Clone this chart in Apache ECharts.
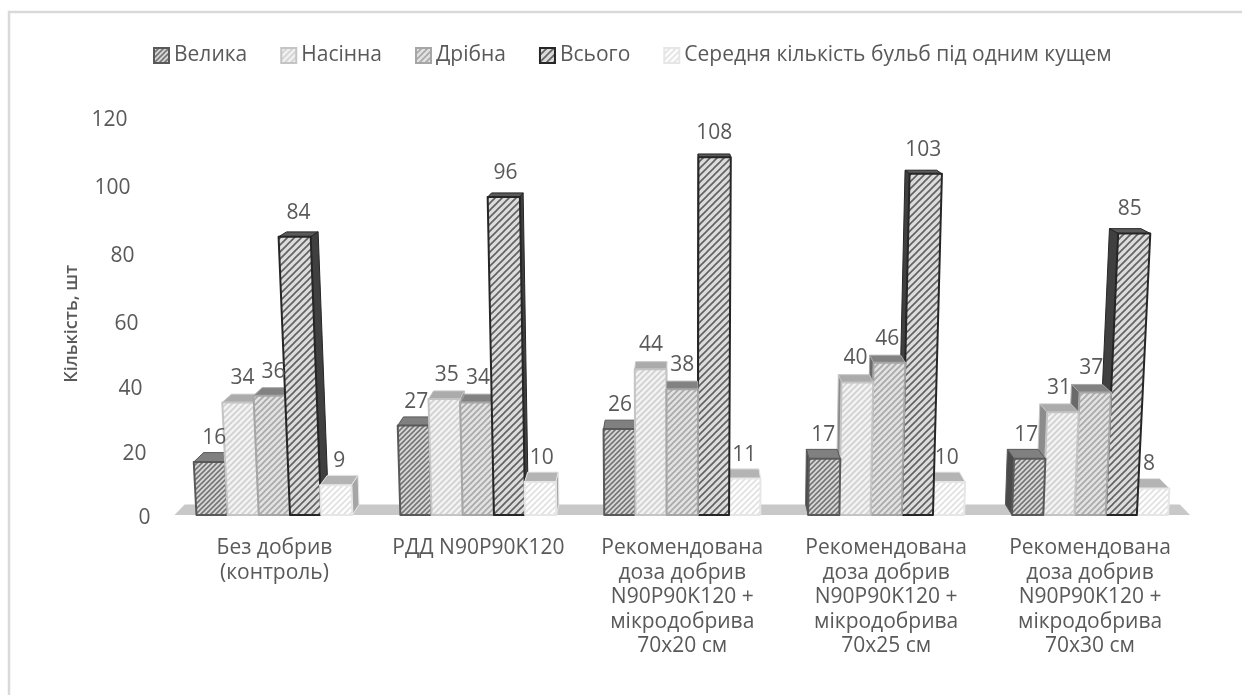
<!DOCTYPE html>
<html><head><meta charset="utf-8">
<style>html,body{margin:0;padding:0;background:#fff}#c{width:1242px;height:695px}</style>
<script src="https://cdn.jsdelivr.net/npm/echarts@6/dist/echarts.min.js"></script>
</head><body><div id="c"></div>
<script>
const categories = [
  'Без добрив\n(контроль)',
  'РДД N90P90K120',
  'Рекомендована\nдоза добрив\nN90P90K120 +\nмікродобрива\n70х20 см',
  'Рекомендована\nдоза добрив\nN90P90K120 +\nмікродобрива\n70х25 см',
  'Рекомендована\nдоза добрив\nN90P90K120 +\nмікродобрива\n70х30 см'
];
const seriesNames = ['Велика','Насінна','Дрібна','Всього','Середня кількість бульб під одним кущем'];
const velyka  = [16,27,26,17,17];
const nasinna = [34,35,44,40,31];
const dribna  = [36,34,38,46,37];
const vsogo   = [84,96,108,103,85];
const serednia= [9,10,11,10,8];
const allValues = [velyka,nasinna,dribna,vsogo,serednia];
const looks = [
  {bg:'#d8d8d8',fg:'#757575',border:'#595959',top:'#808080',side:'#4a4a4a',step:5},
  {bg:'#f2f2f2',fg:'#d0d0d0',border:'#c4c4c4',top:'#ababab',side:'#8c8c8c',step:6},
  {bg:'#e2e2e2',fg:'#a8a8a8',border:'#a6a6a6',top:'#828282',side:'#6a6a6a',step:6},
  {bg:'#dcdcdc',fg:'#606060',border:'#262626',top:'#5a5a5a',side:'#404040',step:7},
  {bg:'#ffffff',fg:'#e0e0e0',border:'#e6e6e6',top:'#b4b4b4',side:'#a6a6a6',step:6}
];
function hatch(l){
  const s=l.step,c=document.createElement('canvas');c.width=s;c.height=s;
  const g=c.getContext('2d');g.fillStyle=l.bg;g.fillRect(0,0,s,s);
  g.strokeStyle=l.fg;g.lineWidth=1.6;
  [[-1,1,1,-1],[0,s,s,0],[s-1,s+1,s+1,s-1]].forEach(p=>{g.beginPath();g.moveTo(p[0],p[1]);g.lineTo(p[2],p[3]);g.stroke();});
  return {image:c,repeat:'repeat'};
}
const patterns = looks.map(hatch);
const DEPTH=0.02, LEAN=0.000348, BAR_SHARE=0.153, FONT='"Open Sans"', TXT='#595959', SIZE=21, VANISH_UP=124.5;

function barRenderer(si){
  return function(params,api){
    const i=api.value(0), v=api.value(1), cs=params.coordSys;
    const band=api.size([1,0])[0], w=band*BAR_SHARE;
    const base=api.coord([i,0]), t=api.coord([i,v]);
    const vx=cs.x+cs.width/2, vy=cs.y-VANISH_UP;
    const xl=base[0]-2.5*w+si*w, xr=xl+w;
    const leanX=x=>x+(x-vx)*LEAN*v;
    const back=p=>[p[0]+(vx-p[0])*DEPTH,p[1]+(vy-p[1])*DEPTH];
    const bl=[xl,base[1]],br=[xr,base[1]],tl=[leanX(xl),t[1]],tr=[leanX(xr),t[1]];
    const l=looks[si];
    const z=Math.round(1000-Math.abs((xl+xr)/2-vx));
    const kids=[];
    const poly=(pts,fill,stroke,lw,zz)=>({type:'polygon',z2:zz,shape:{points:pts},style:{fill,stroke,lineWidth:lw,lineJoin:'round'}});
    kids.push(poly([tl,tr,back(tr),back(tl)],l.top,l.border,1,z));
    if(xr<vx) kids.push(poly([br,tr,back(tr),back(br)],l.side,l.border,1,z));
    if(xl>vx) kids.push(poly([bl,tl,back(tl),back(bl)],l.side,l.border,1,z));
    kids.push(poly([bl,br,tr,tl],patterns[si],l.border,2,z+1));
    const bt=back(tl),bt2=back(tr);
    kids.push({type:'text',z2:3000,style:{
      x:(tl[0]+tr[0]+bt[0]+bt2[0])/4,y:t[1]-24,text:String(v),
      align:'center',verticalAlign:'middle',fill:TXT,font:SIZE+'px '+FONT}});
    return {type:'group',children:kids};
  };
}
function floorRenderer(params,api){
  const cs=params.coordSys, y=api.coord([0,0])[1];
  const vx=cs.x+cs.width/2, vy=cs.y-VANISH_UP;
  const b=p=>[p[0]+(vx-p[0])*DEPTH,p[1]+(vy-p[1])*DEPTH];
  const a=[cs.x+2,y],c=[cs.x+cs.width-2,y];
  return {type:'polygon',z2:0,shape:{points:[a,c,b(c),b(a)]},style:{fill:'#c8c8c8'}};
}
const tickPad={0:[7,0],20:[11,4],40:[14,8],60:[15,12],80:[13,16],100:[9,20],120:[5,23]};
const rich={};Object.keys(tickPad).forEach(k=>{rich['t'+k]={padding:[tickPad[k][0],tickPad[k][1],0,0],fontSize:SIZE,fontFamily:FONT,color:TXT};});

const series=[{type:'custom',name:'floor',silent:true,renderItem:floorRenderer,data:[[0,0]],encode:{x:0,y:1}}];
seriesNames.forEach((n,si)=>{
  series.push({type:'custom',name:n,renderItem:barRenderer(si),
    encode:{x:0,y:1},
    itemStyle:{color:patterns[si],borderColor:looks[si].border,borderWidth:2},
    data:allValues[si].map((v,i)=>[i,v])});
});
const chart=echarts.init(document.getElementById('c'),null,{renderer:'canvas'});
chart.setOption({
  animation:false,backgroundColor:'#fff',
  graphic:[{type:'rect',silent:true,shape:{x:9,y:12,width:1500,height:900},style:{fill:'none',stroke:'#d9d9d9',lineWidth:2.5}}],
  legend:{data:seriesNames,icon:'rect',padding:0,left:153,top:45,itemWidth:15,itemHeight:15,itemGap:33,
    textStyle:{fontFamily:FONT,fontSize:SIZE,color:TXT}},
  grid:{left:172.5,top:117.5,width:1019.5,height:397.5,containLabel:false},
  xAxis:{type:'category',data:categories,axisLine:{show:false},axisTick:{show:false},splitLine:{show:false},
    axisLabel:{interval:0,margin:21,fontFamily:FONT,fontSize:SIZE,color:TXT,lineHeight:24.5,align:'center'}},
  yAxis:{type:'value',min:0,max:120,interval:20,axisLine:{show:false},axisTick:{show:false},splitLine:{show:false},
    name:'Кількість, шт',nameLocation:'middle',nameGap:92,nameRotate:90,
    nameTextStyle:{fontFamily:FONT,fontSize:18,fontWeight:600,color:TXT,padding:[0,15,0,0]},
    axisLabel:{margin:22,formatter:v=>'{t'+v+'|'+v+'}',rich}},
  series
});
</script></body></html>
